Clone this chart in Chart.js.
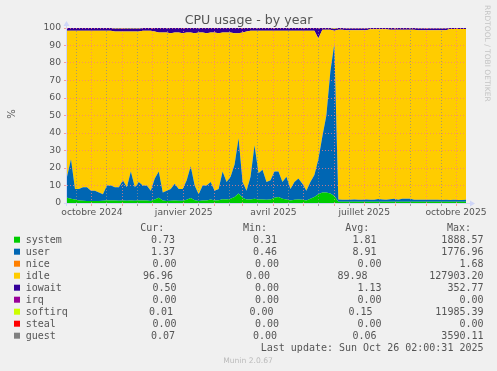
<!DOCTYPE html>
<html>
<head>
<meta charset="utf-8">
<script src="https://cdn.jsdelivr.net/npm/chart.js@4.4.1/dist/chart.umd.min.js"></script>
<style>
    html, body { margin: 0; padding: 0; background: #f0f0f0; }
    #wrap { width: 497px; height: 371px; }
</style>
</head>
<body>
<div id="wrap"><canvas id="cpu" width="497" height="371"></canvas></div>
<script>
// cpu-year.html — Munin "CPU usage - by year" redrawn with Chart.js

// one sample every 4 days, day 0 = 6 Sep 2024
const STEP_DAYS  = 4;
const X_MAX_DAYS = 400;

const systemPct = [
    3, 2.5, 2, 1.5, 1.3, 1.2, 1.2, 1.2, 1.1, 1.3,
    1.5, 1.5, 1.4, 1.3, 1.5, 1.3, 1.5, 1.3, 1.4, 1.5,
    1.4, 1.2, 2, 3, 1.5, 1.2, 1.3, 1.5, 1.3, 1.3,
    1.8, 2.8, 1.6, 1.2, 1.5, 1.5, 2, 1.5, 1.6, 2.2,
    2, 2.5, 3.5, 5.5, 3, 2, 2, 2.5, 2, 2,
    1.8, 2, 3, 3.5, 2.5, 2, 1.5, 1.8, 2, 1.8,
    1.5, 2.5, 3.5, 5, 6, 6, 5.5, 4, 0.7, 0.7,
    0.7, 0.7, 0.7, 0.7, 0.7, 0.7, 0.7, 0.7, 0.7, 0.7,
    0.7, 0.7, 0.7, 0.7, 0.7, 0.7, 0.7, 0.7, 0.7, 0.7,
    0.7, 0.7, 0.7, 0.7, 0.7, 0.7, 0.7, 0.7, 0.7, 0.7,
    0.7,
];
const userPct = [
    12, 22.5, 6, 6.5, 7.7, 7.8, 5.8, 5.8, 4.9, 3.7,
    8.5, 8.5, 7.6, 7.7, 11.5, 7.7, 16.5, 7.7, 10.6, 8.5,
    8.6, 5.8, 12, 15, 4.5, 5.8, 6.7, 9.5, 6.7, 6.7,
    11.2, 18.2, 8.4, 3.8, 8.5, 8.5, 10, 5.5, 6.4, 15.8,
    10, 12.5, 18.5, 31.5, 9, 5, 13, 30.5, 15, 17,
    10.2, 11, 15, 14.5, 9.5, 13, 6.5, 10.2, 12, 9.2,
    5.5, 9.5, 12.5, 20, 32, 44, 69.5, 87, 1.3, 1.2,
    1.2, 1.2, 1.3, 1.2, 1.2, 1.3, 1.2, 1.2, 1.6, 1.3,
    1.2, 1.4, 1.8, 1.2, 1.7, 1.8, 1.7, 1.2, 1.2, 1.1,
    1.1, 1.2, 1.1, 1.1, 1.0, 1.1, 1.0, 1.1, 1.0, 1.0,
    1.1,
];
const idlePct = [
    83.5, 73.5, 90.5, 90.5, 89.5, 89.5, 91.5, 91.5, 92.5, 93.5,
    88.5, 88.5, 89, 89, 85, 89, 80, 89, 86, 88.5,
    88.5, 91.5, 84, 79.5, 91.5, 90.5, 89, 86.5, 89.5, 89,
    84.5, 76.5, 87, 92.5, 87.5, 87, 85.5, 90.5, 89, 79.5,
    85.5, 82.5, 75, 60, 85.5, 91, 83.5, 65.5, 81.5, 79.5,
    86.5, 85.5, 80.5, 80.5, 86.5, 83.5, 90.5, 86.5, 84.5, 87.5,
    91.5, 86.5, 82.5, 69, 61, 49, 24, 7.5, 97.0, 97.1,
    96.8, 96.8, 96.7, 96.8, 96.8, 96.7, 97.4, 97.4, 97.0, 97.3,
    97.4, 96.9, 96.5, 97.1, 96.6, 96.5, 96.6, 97.1, 96.8, 96.9,
    96.9, 96.8, 96.9, 96.9, 97.0, 96.9, 97.8, 97.7, 97.8, 97.8,
    97.7,
];
const iowaitPct = [
    1.5, 1.5, 1.5, 1.5, 1.5, 1.5, 1.5, 1.5, 1.5, 1.5,
    1.5, 1.5, 1.5, 1.5, 1.5, 1.5, 1.5, 1.5, 1.5, 1.5,
    1.5, 1.5, 2, 2.5, 2.5, 2.5, 3, 2.5, 2.5, 3,
    2.5, 2.5, 3, 2.5, 2.5, 3, 2.5, 2.5, 3, 2.5,
    2.5, 2.5, 3, 3, 2.5, 2, 1.5, 1.5, 1.5, 1.5,
    1.5, 1.5, 1.5, 1.5, 1.5, 1.5, 1.5, 1.5, 1.5, 1.5,
    1.5, 1.5, 1.5, 6, 1, 1, 1, 1, 1, 1,
    1, 1, 1, 1, 1, 1, 0.7, 0.7, 0.7, 0.7,
    0.7, 1, 1, 1, 1, 1, 1, 1, 1, 1,
    1, 1, 1, 1, 1, 1, 0.5, 0.5, 0.5, 0.5,
    0.5,
];
const softirqPct = [
    0, 0, 0, 0, 0, 0, 0, 0, 0, 0,
    0, 0, 0, 0, 0, 0, 0, 0, 0, 0,
    0, 0, 0, 0, 0, 0, 0, 0, 0, 0,
    0, 0, 0, 0, 0, 0, 0, 0, 0, 0,
    0, 0, 0, 0, 0, 0, 0, 0, 0, 0,
    0, 0, 0, 0, 0, 0, 0, 0, 0, 0,
    0, 0, 0, 0, 0, 0, 0, 0.5, 0, 0,
    0, 0, 0, 0, 0, 0, 0, 0, 0, 0,
    0, 0, 0, 0, 0, 0, 0, 0, 0, 0,
    0, 0, 0, 0, 0, 0, 0, 0, 0, 0,
    0,
];
const guestPct = [
    0, 0, 0, 0, 0, 0, 0, 0, 0, 0,
    0, 0, 0.5, 0.5, 0.5, 0.5, 0.5, 0.5, 0.5, 0,
    0, 0, 0, 0, 0, 0, 0, 0, 0, 0,
    0, 0, 0, 0, 0, 0, 0, 0, 0, 0,
    0, 0, 0, 0, 0, 0, 0, 0, 0, 0,
    0, 0, 0, 0, 0, 0, 0, 0, 0, 0,
    0, 0, 0, 0, 0, 0, 0, 0, 0, 0,
    0.3, 0.3, 0.3, 0.3, 0.3, 0.3, 0, 0, 0, 0,
    0, 0, 0, 0, 0, 0, 0, 0, 0.3, 0.3,
    0.3, 0.3, 0.3, 0.3, 0.3, 0.3, 0, 0, 0, 0,
    0,
];

// time axis: grid every half month, labels each quarter
const gridDays       = [10, 25, 40, 56, 71, 86, 101, 117, 132, 148, 163, 176, 191, 207, 222, 237, 252, 268, 283, 298, 313, 329, 344, 360, 375, 390];
const monthStartDays = [25, 56, 86, 117, 148, 176, 207, 237, 268, 298, 329, 360, 390];
const xLabelDays     = [25, 117, 207, 298, 390];
const xLabelText     = ['octobre 2024', 'janvier 2025', 'avril 2025', 'juillet 2025', 'octobre 2025'];

// legend table
const legendNames  = ['system', 'user', 'nice', 'idle', 'iowait', 'irq', 'softirq', 'steal', 'guest'];
const legendColors = ['#00CC00', '#0066B3', '#FF8000', '#FFCC00', '#330099', '#990099', '#CCFF00', '#FF0000', '#808080'];
const curVals = ['0.73', '1.37', '0.00', '96.96', '0.50', '0.00', '0.01', '0.00', '0.07'];
const minVals = ['0.31', '0.46', '0.00', '0.00', '0.00', '0.00', '0.00', '0.00', '0.00'];
const avgVals = ['1.81', '8.91', '0.00', '89.98', '1.13', '0.00', '0.15', '0.00', '0.06'];
const maxVals = ['1888.57', '1776.96', '1.68', '127903.20', '352.77', '0.00', '11985.39', '0.00', '3590.11'];

// rrdtool justifies each legend line, so the columns wander a little
const colRight = [
    [175, 277, 376.5, 483.5],
    [175, 277, 376.5, 483.5],
    [176.5, 279, 381.5, 483.5],
    [173, 270, 367.5, 483.5],
    [176.5, 279, 381.5, 483.5],
    [176.5, 279, 381.5, 483.5],
    [173, 273.5, 372.5, 483.5],
    [176.5, 279, 381.5, 483.5],
    [175, 277, 376.5, 483.5],
];

const GRID  = 'rgba(140,140,140,0.75)';
const MGRID = 'rgba(245,128,128,0.75)';
const TEXT  = '#555';
const AXIS  = '#CFD6F8';

const toPoints = arr => arr.map((v, i) => ({ x: i * STEP_DAYS, y: v }));

const stack = [
    { label: 'system',  data: systemPct,  color: '#00CC00' },
    { label: 'user',    data: userPct,    color: '#0066B3' },
    { label: 'idle',    data: idlePct,    color: '#FFCC00' },
    { label: 'iowait',  data: iowaitPct,  color: '#330099' },
    { label: 'softirq', data: softirqPct, color: '#CCFF00' },
    { label: 'guest',   data: guestPct,   color: '#808080' },
];

const muninDecor = {
    id: 'muninDecor',
    afterDraw(chart) {
        const c = chart.ctx;
        const a = chart.chartArea;
        c.save();

        // axes + arrows
        c.strokeStyle = AXIS;
        c.fillStyle = AXIS;
        c.lineWidth = 1;
        c.beginPath();
        c.moveTo(a.left - 0.5, a.bottom + 3);
        c.lineTo(a.left - 0.5, a.top - 3);
        c.moveTo(a.left - 3, a.bottom + 0.5);
        c.lineTo(a.right + 5, a.bottom + 0.5);
        c.stroke();
        c.beginPath();
        c.moveTo(a.left - 0.5, a.top - 7);
        c.lineTo(a.left - 3.5, a.top - 2);
        c.lineTo(a.left + 2.5, a.top - 2);
        c.closePath();
        c.fill();
        c.beginPath();
        c.moveTo(a.right + 9, a.bottom + 0.5);
        c.lineTo(a.right + 4, a.bottom - 2.5);
        c.lineTo(a.right + 4, a.bottom + 3.5);
        c.closePath();
        c.fill();

        // title
        c.fillStyle = TEXT;
        c.font = '12.6px "DejaVu Sans"';
        c.textAlign = 'center';
        c.textBaseline = 'alphabetic';
        c.fillText('CPU usage - by year', 248.5, 24.3);

        // vertical label
        c.save();
        c.translate(15, 114);
        c.rotate(-Math.PI / 2);
        c.font = '10px "DejaVu Sans"';
        c.fillText('%', 0, 0);
        c.restore();

        // rrdtool watermark
        c.save();
        c.translate(485.3, 5);
        c.rotate(Math.PI / 2);
        c.fillStyle = '#c4c4c4';
        c.font = '7.5px "DejaVu Sans"';
        c.textAlign = 'left';
        c.fillText('RRDTOOL / TOBI OETIKER', 0, 0);
        c.restore();

        // legend table
        c.font = '10px "DejaVu Sans Mono"';
        c.textAlign = 'right';
        [['Cur:', 164.3], ['Min:', 267], ['Avg:', 369.3], ['Max:', 471]].forEach(([t, x]) => c.fillText(t, x, 230.7));

        legendNames.forEach((name, k) => {
            const y = 242.7 + k * 12;
            c.fillStyle = legendColors[k];
            c.fillRect(14, y - 6, 6, 6);
            c.fillStyle = TEXT;
            c.textAlign = 'left';
            c.fillText(name, 25.7, y);
            c.textAlign = 'right';
            const vals = [curVals[k], minVals[k], avgVals[k], maxVals[k]];
            vals.forEach((v, j) => c.fillText(v, colRight[k][j], y));
        });
        c.fillText('Last update: Sun Oct 26 02:00:31 2025', 483.5, 350.7);

        c.fillStyle = '#bbbbbb';
        c.font = '7.6px "DejaVu Sans"';
        c.textAlign = 'center';
        c.fillText('Munin 2.0.67', 248, 362.7);
        c.restore();
    },
};

new Chart(document.getElementById('cpu'), {
    type: 'line',
    data: {
        datasets: stack.map((s, k) => ({
            label: s.label,
            data: toPoints(s.data),
            backgroundColor: s.color,
            borderColor: s.color,
            borderWidth: 0,
            pointRadius: 0,
            tension: 0,
            fill: k === 0 ? 'origin' : '-1',
        })),
    },
    options: {
        responsive: false,
        animation: false,
        devicePixelRatio: 1,
        layout: { padding: { left: 0, right: 31, top: 28, bottom: 148 } },
        plugins: {
            legend: { display: false },
            tooltip: { enabled: false },
        },
        scales: {
            x: {
                type: 'linear',
                min: 0,
                max: X_MAX_DAYS,
                z: 1,
                afterBuildTicks(sc) { sc.ticks = gridDays.map(v => ({ value: v })); },
                afterFit(sc) { sc.height = 20; },
                border: { display: false, dash: [1, 2], z: 1 },
                grid: {
                    z: 1,
                    color: ctx => (ctx.tick && monthStartDays.includes(ctx.tick.value)) ? MGRID : GRID,
                    tickColor: ctx => (ctx.tick && monthStartDays.includes(ctx.tick.value)) ? MGRID : GRID,
                    tickLength: 3,
                },
                ticks: {
                    autoSkip: false,
                    maxRotation: 0,
                    padding: 1,
                    color: TEXT,
                    font: { family: 'DejaVu Sans', size: 9.2 },
                    callback: v => { const k = xLabelDays.indexOf(v); return k >= 0 ? xLabelText[k] : ''; },
                },
            },
            y: {
                stacked: true,
                min: 0,
                max: 100,
                z: 1,
                afterFit(sc) { sc.width = 67; },
                border: { display: false, dash: [1, 2], z: 1 },
                grid: {
                    z: 1,
                    color: ctx => (ctx.tick && ctx.tick.value % 10 === 0) ? MGRID : GRID,
                    tickColor: ctx => (ctx.tick && ctx.tick.value % 10 === 0) ? MGRID : GRID,
                    tickLength: 3,
                },
                ticks: {
                    stepSize: 5,
                    padding: 3,
                    color: TEXT,
                    font: { family: 'DejaVu Sans', size: 9.2 },
                    callback: v => v % 10 === 0 ? v : '',
                },
            },
        },
    },
    plugins: [muninDecor],
});
</script>
</body>
</html>
